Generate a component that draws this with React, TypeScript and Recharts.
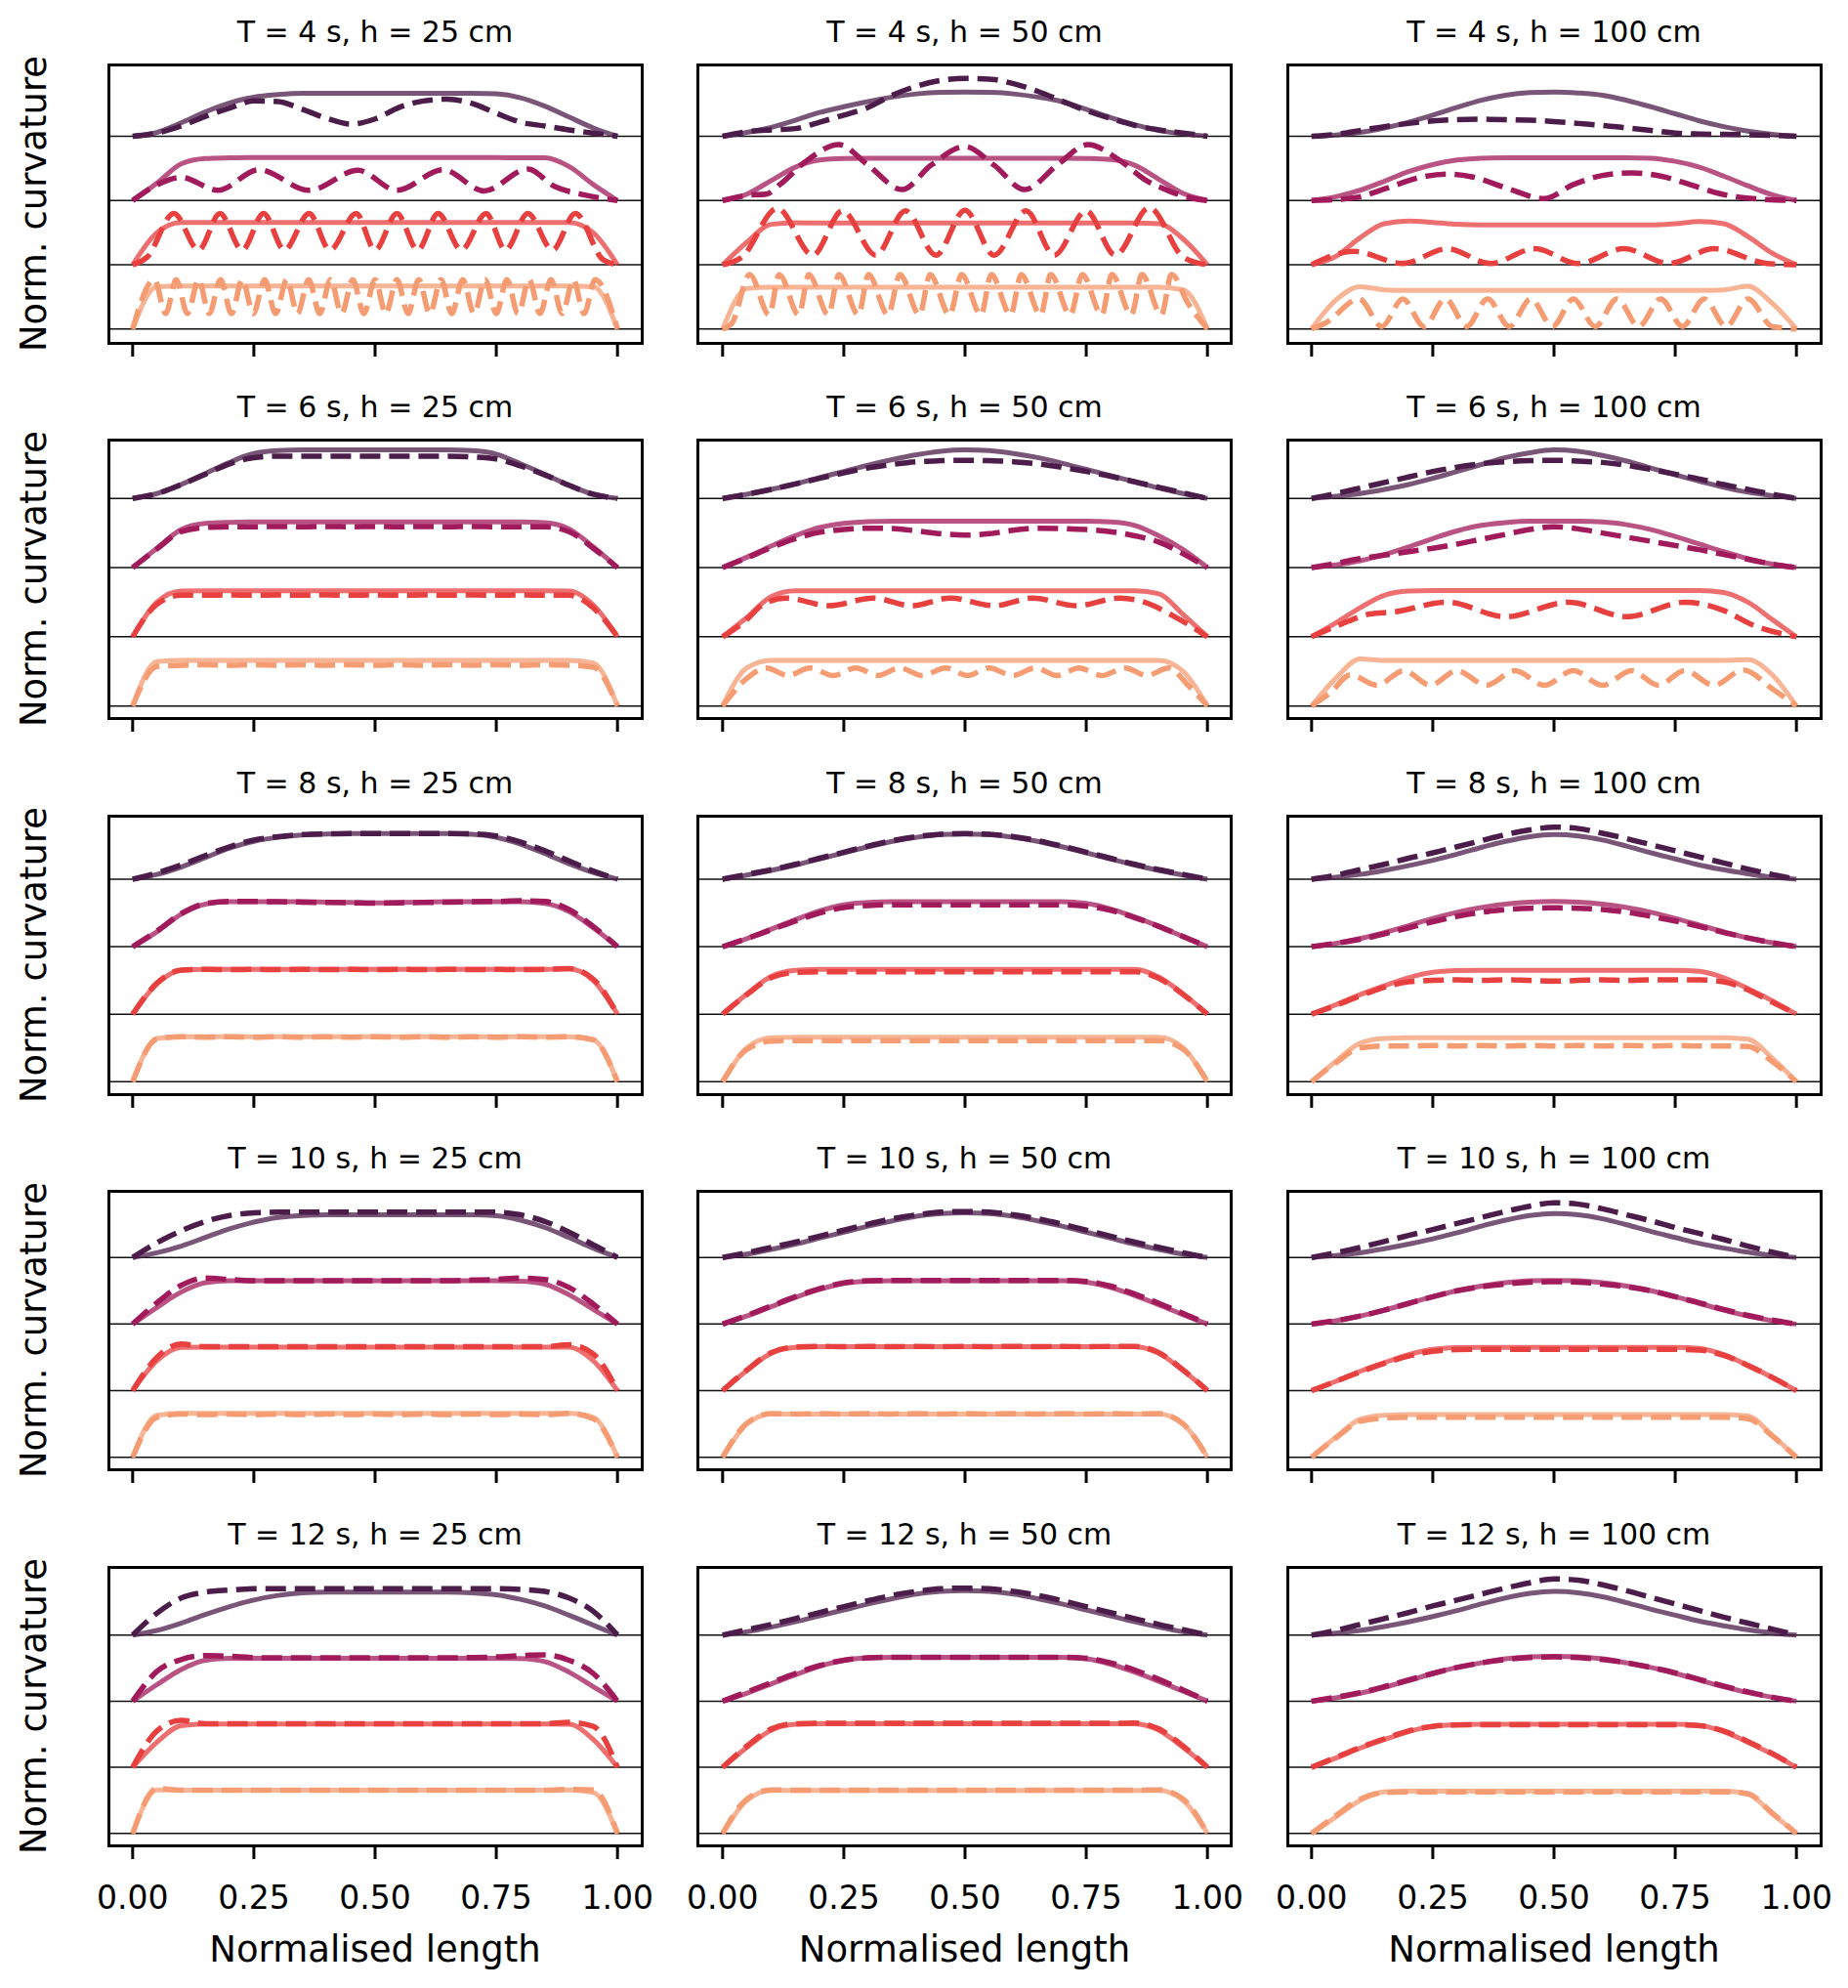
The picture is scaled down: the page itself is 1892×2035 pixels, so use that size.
import React from 'react';
import { LineChart, Line, XAxis, YAxis, ReferenceLine } from 'recharts';

type Band = number[] | [number, number][];

const FONT = "'DejaVu Sans', sans-serif";

// sampling grid for the evenly sampled curves
const xGrid = [0, 0.05, 0.1, 0.15, 0.2, 0.25, 0.3, 0.35, 0.4, 0.45, 0.5, 0.55, 0.6, 0.65, 0.7, 0.75, 0.8, 0.85, 0.9, 0.95, 1];
const xTicks = [0, 0.25, 0.5, 0.75, 1];
const periods = [4, 6, 8, 10, 12];
const depths = [25, 50, 100];
const bandColors = ['#4c1d4b', '#a11a5b', '#e83f3f', '#f69c73'];

// ---- T = 4 s ----
const s4_25: Band[] = [
  [0, 0.06, 0.21, 0.38, 0.52, 0.61, 0.65, 0.67, 0.67, 0.67, 0.67, 0.67, 0.67, 0.67, 0.67, 0.66, 0.6, 0.47, 0.3, 0.13, 0],
  [0, 0.27, 0.57, 0.655, 0.665, 0.67, 0.67, 0.67, 0.67, 0.67, 0.67, 0.67, 0.67, 0.67, 0.67, 0.67, 0.665, 0.665, 0.53, 0.25, 0],
  [0, 0.5, 0.66, 0.66, 0.66, 0.66, 0.66, 0.66, 0.66, 0.66, 0.66, 0.66, 0.66, 0.66, 0.66, 0.66, 0.66, 0.66, 0.66, 0.5, 0],
  [0, 0.66, 0.67, 0.67, 0.67, 0.67, 0.67, 0.67, 0.67, 0.67, 0.67, 0.67, 0.67, 0.67, 0.67, 0.67, 0.67, 0.67, 0.67, 0.66, 0],
];
const d4_25: Band[] = [
  [0, 0.05, 0.16, 0.31, 0.44, 0.55, 0.54, 0.42, 0.28, 0.19, 0.27, 0.45, 0.55, 0.58, 0.51, 0.36, 0.22, 0.16, 0.1, 0.05, 0],
  [[0, 0], [0.06, 0.28], [0.1, 0.36], [0.176, 0.16], [0.26, 0.48], [0.364, 0.16], [0.465, 0.47], [0.545, 0.16], [0.64, 0.48], [0.725, 0.15], [0.815, 0.49], [0.87, 0.22], [0.93, 0.09], [1, 0]],
  [[0, 0], [0.03, 0.12], [0.085, 0.8], [0.136, 0.23], [0.18, 0.8], [0.226, 0.23], [0.27, 0.8], [0.313, 0.23], [0.364, 0.8], [0.407, 0.23], [0.461, 0.8], [0.5, 0.23], [0.545, 0.8], [0.588, 0.23], [0.63, 0.8], [0.678, 0.23], [0.729, 0.8], [0.769, 0.23], [0.815, 0.8], [0.866, 0.23], [0.913, 0.8], [0.97, 0.08], [1, 0]],
  [[0, 0], [0.045, 0.77], [0.068, 0.24], [0.09, 0.77], [0.113, 0.24], [0.136, 0.77], [0.158, 0.24], [0.181, 0.77], [0.204, 0.24], [0.226, 0.77], [0.249, 0.24], [0.272, 0.77], [0.295, 0.24], [0.318, 0.77], [0.34, 0.24], [0.363, 0.77], [0.386, 0.24], [0.408, 0.77], [0.431, 0.24], [0.454, 0.77], [0.477, 0.24], [0.5, 0.77], [0.522, 0.24], [0.545, 0.77], [0.568, 0.24], [0.59, 0.77], [0.613, 0.24], [0.636, 0.77], [0.658, 0.24], [0.681, 0.77], [0.704, 0.24], [0.727, 0.77], [0.75, 0.24], [0.772, 0.77], [0.795, 0.24], [0.818, 0.77], [0.84, 0.24], [0.863, 0.77], [0.886, 0.24], [0.909, 0.77], [0.931, 0.24], [0.954, 0.77], [1, 0]],
];
const s4_50: Band[] = [
  [0, 0.06, 0.14, 0.25, 0.37, 0.46, 0.54, 0.61, 0.66, 0.685, 0.69, 0.685, 0.66, 0.61, 0.54, 0.42, 0.29, 0.18, 0.09, 0.04, 0],
  [0, 0.1, 0.31, 0.52, 0.63, 0.655, 0.66, 0.66, 0.66, 0.66, 0.66, 0.66, 0.66, 0.66, 0.66, 0.655, 0.64, 0.55, 0.33, 0.11, 0],
  [0, 0.35, 0.63, 0.655, 0.65, 0.65, 0.65, 0.65, 0.65, 0.65, 0.65, 0.65, 0.65, 0.65, 0.65, 0.65, 0.65, 0.65, 0.64, 0.4, 0],
  [0, 0.63, 0.65, 0.65, 0.65, 0.65, 0.65, 0.65, 0.65, 0.65, 0.65, 0.65, 0.65, 0.65, 0.65, 0.65, 0.65, 0.65, 0.65, 0.61, 0],
];
const d4_50: Band[] = [
  [0, 0.07, 0.1, 0.12, 0.22, 0.33, 0.45, 0.64, 0.78, 0.87, 0.9, 0.89, 0.82, 0.7, 0.55, 0.4, 0.28, 0.17, 0.1, 0.05, 0],
  [[0, 0], [0.05, 0.08], [0.09, 0.1], [0.12, 0.26], [0.17, 0.6], [0.24, 0.87], [0.3, 0.55], [0.37, 0.17], [0.43, 0.55], [0.5, 0.84], [0.56, 0.55], [0.623, 0.17], [0.69, 0.55], [0.753, 0.87], [0.82, 0.62], [0.87, 0.33], [0.92, 0.15], [0.96, 0.05], [1, 0]],
  [[0, 0], [0.04, 0.12], [0.113, 0.88], [0.186, 0.15], [0.247, 0.84], [0.316, 0.15], [0.377, 0.84], [0.44, 0.15], [0.5, 0.85], [0.56, 0.15], [0.626, 0.84], [0.684, 0.15], [0.75, 0.84], [0.81, 0.15], [0.88, 0.89], [0.95, 0.12], [1, 0]],
  [[0, 0], [0.02, 0.1], [0.056, 0.85], [0.096, 0.22], [0.117, 0.85], [0.157, 0.22], [0.178, 0.85], [0.218, 0.22], [0.24, 0.85], [0.28, 0.22], [0.301, 0.85], [0.341, 0.22], [0.366, 0.85], [0.406, 0.22], [0.428, 0.85], [0.468, 0.22], [0.493, 0.85], [0.533, 0.22], [0.554, 0.85], [0.594, 0.22], [0.616, 0.85], [0.656, 0.22], [0.677, 0.85], [0.717, 0.22], [0.742, 0.85], [0.782, 0.22], [0.803, 0.85], [0.843, 0.22], [0.865, 0.85], [0.905, 0.22], [0.926, 0.85], [0.96, 0.4], [1, 0]],
];
const s4_100: Band[] = [
  [0, 0.02, 0.06, 0.13, 0.22, 0.33, 0.45, 0.56, 0.64, 0.68, 0.69, 0.675, 0.64, 0.56, 0.46, 0.35, 0.24, 0.15, 0.08, 0.03, 0],
  [0, 0.06, 0.16, 0.3, 0.45, 0.56, 0.63, 0.66, 0.665, 0.665, 0.665, 0.665, 0.665, 0.665, 0.66, 0.61, 0.52, 0.38, 0.23, 0.09, 0],
  [0, 0.13, 0.42, 0.64, 0.68, 0.66, 0.63, 0.62, 0.62, 0.62, 0.62, 0.62, 0.62, 0.62, 0.62, 0.64, 0.675, 0.64, 0.44, 0.18, 0],
  [0, 0.45, 0.66, 0.61, 0.6, 0.6, 0.6, 0.6, 0.6, 0.6, 0.6, 0.6, 0.6, 0.6, 0.6, 0.6, 0.6, 0.61, 0.665, 0.4, 0],
];
const d4_100: Band[] = [
  [0, 0.03, 0.09, 0.15, 0.2, 0.24, 0.26, 0.265, 0.26, 0.25, 0.23, 0.2, 0.17, 0.13, 0.09, 0.05, 0.035, 0.03, 0.025, 0.015, 0],
  [[0, 0], [0.06, 0.02], [0.1, 0.06], [0.15, 0.18], [0.23, 0.37], [0.28, 0.41], [0.33, 0.37], [0.4, 0.2], [0.48, 0.03], [0.54, 0.25], [0.6, 0.39], [0.66, 0.43], [0.72, 0.38], [0.78, 0.25], [0.84, 0.11], [0.91, 0.03], [1, 0]],
  [[0, 0], [0.087, 0.21], [0.188, 0.02], [0.28, 0.25], [0.369, 0.02], [0.46, 0.25], [0.55, 0.02], [0.644, 0.25], [0.738, 0.02], [0.83, 0.25], [0.94, 0.02], [1, 0]],
  [[0, 0], [0.03, 0.1], [0.098, 0.47], [0.145, 0.04], [0.188, 0.47], [0.232, 0.04], [0.276, 0.47], [0.32, 0.04], [0.363, 0.47], [0.408, 0.04], [0.452, 0.47], [0.497, 0.04], [0.54, 0.47], [0.585, 0.04], [0.63, 0.47], [0.675, 0.04], [0.72, 0.47], [0.765, 0.04], [0.81, 0.47], [0.855, 0.04], [0.9, 0.47], [0.95, 0.04], [1, 0]],
];

// ---- T = 6 s ----
const s6_25: Band[] = [
  [0, 0.07, 0.2, 0.36, 0.52, 0.65, 0.69, 0.7, 0.7, 0.7, 0.7, 0.7, 0.7, 0.7, 0.69, 0.64, 0.5, 0.35, 0.19, 0.06, 0],
  [0, 0.28, 0.55, 0.64, 0.655, 0.66, 0.66, 0.66, 0.66, 0.66, 0.66, 0.66, 0.66, 0.66, 0.66, 0.66, 0.66, 0.65, 0.56, 0.3, 0],
  [0, 0.5, 0.66, 0.665, 0.665, 0.665, 0.665, 0.665, 0.665, 0.665, 0.665, 0.665, 0.665, 0.665, 0.665, 0.665, 0.665, 0.665, 0.66, 0.46, 0],
  [0, 0.64, 0.66, 0.66, 0.66, 0.66, 0.66, 0.66, 0.66, 0.66, 0.66, 0.66, 0.66, 0.66, 0.66, 0.66, 0.66, 0.66, 0.66, 0.62, 0],
];
const d6_25: Band[] = [
  [0, 0.07, 0.2, 0.35, 0.5, 0.59, 0.61, 0.61, 0.61, 0.61, 0.61, 0.61, 0.61, 0.61, 0.6, 0.57, 0.47, 0.34, 0.19, 0.06, 0],
  [0, 0.27, 0.52, 0.58, 0.59, 0.59, 0.595, 0.59, 0.595, 0.59, 0.595, 0.59, 0.595, 0.59, 0.595, 0.59, 0.59, 0.59, 0.52, 0.28, 0],
  [0, 0.47, 0.6, 0.6, 0.605, 0.6, 0.605, 0.6, 0.605, 0.6, 0.605, 0.6, 0.605, 0.6, 0.605, 0.6, 0.605, 0.6, 0.6, 0.42, 0],
  [0, 0.57, 0.59, 0.595, 0.59, 0.595, 0.59, 0.595, 0.59, 0.595, 0.59, 0.595, 0.59, 0.595, 0.59, 0.595, 0.59, 0.595, 0.59, 0.56, 0],
];
const s6_50: Band[] = [
  [0, 0.06, 0.13, 0.21, 0.3, 0.39, 0.48, 0.56, 0.63, 0.68, 0.7, 0.69, 0.65, 0.59, 0.51, 0.42, 0.33, 0.24, 0.15, 0.07, 0],
  [0, 0.15, 0.31, 0.46, 0.58, 0.64, 0.665, 0.67, 0.67, 0.67, 0.67, 0.67, 0.67, 0.67, 0.67, 0.67, 0.66, 0.61, 0.46, 0.26, 0],
  [0, 0.28, 0.58, 0.665, 0.665, 0.665, 0.665, 0.665, 0.665, 0.665, 0.665, 0.665, 0.665, 0.665, 0.665, 0.665, 0.665, 0.665, 0.62, 0.32, 0],
  [0, 0.55, 0.66, 0.66, 0.66, 0.66, 0.66, 0.66, 0.66, 0.66, 0.66, 0.66, 0.66, 0.66, 0.66, 0.66, 0.66, 0.66, 0.66, 0.5, 0],
];
const d6_50: Band[] = [
  [0, 0.06, 0.13, 0.21, 0.29, 0.37, 0.44, 0.49, 0.53, 0.545, 0.55, 0.545, 0.53, 0.5, 0.45, 0.39, 0.32, 0.24, 0.16, 0.08, 0],
  [0, 0.14, 0.29, 0.42, 0.51, 0.55, 0.57, 0.565, 0.53, 0.49, 0.47, 0.49, 0.54, 0.57, 0.565, 0.55, 0.52, 0.46, 0.37, 0.2, 0],
  [[0, 0], [0.05, 0.25], [0.08, 0.45], [0.13, 0.56], [0.22, 0.45], [0.31, 0.56], [0.39, 0.45], [0.47, 0.56], [0.56, 0.45], [0.64, 0.56], [0.73, 0.45], [0.82, 0.56], [0.87, 0.5], [0.93, 0.3], [1, 0]],
  [[0, 0], [0.05, 0.4], [0.09, 0.55], [0.135, 0.44], [0.18, 0.55], [0.228, 0.44], [0.275, 0.55], [0.32, 0.44], [0.365, 0.55], [0.412, 0.44], [0.46, 0.55], [0.505, 0.44], [0.55, 0.55], [0.598, 0.44], [0.645, 0.55], [0.69, 0.44], [0.735, 0.55], [0.782, 0.44], [0.83, 0.55], [0.875, 0.44], [0.92, 0.55], [0.96, 0.3], [1, 0]],
];
const s6_100: Band[] = [
  [0, 0.03, 0.07, 0.13, 0.2, 0.29, 0.39, 0.49, 0.59, 0.66, 0.7, 0.68, 0.62, 0.54, 0.44, 0.34, 0.25, 0.16, 0.09, 0.04, 0],
  [0, 0.04, 0.1, 0.19, 0.3, 0.42, 0.53, 0.61, 0.65, 0.67, 0.67, 0.67, 0.66, 0.62, 0.55, 0.45, 0.34, 0.23, 0.13, 0.05, 0],
  [0, 0.2, 0.42, 0.6, 0.66, 0.67, 0.67, 0.67, 0.67, 0.67, 0.67, 0.67, 0.67, 0.67, 0.67, 0.67, 0.67, 0.64, 0.5, 0.25, 0],
  [0, 0.4, 0.68, 0.66, 0.66, 0.66, 0.66, 0.66, 0.66, 0.66, 0.66, 0.66, 0.66, 0.66, 0.66, 0.66, 0.66, 0.66, 0.67, 0.45, 0],
];
const d6_100: Band[] = [
  [0, 0.07, 0.15, 0.23, 0.31, 0.39, 0.45, 0.5, 0.53, 0.545, 0.55, 0.54, 0.52, 0.48, 0.42, 0.35, 0.28, 0.2, 0.13, 0.06, 0],
  [0, 0.06, 0.13, 0.18, 0.23, 0.28, 0.34, 0.41, 0.48, 0.55, 0.59, 0.56, 0.5, 0.44, 0.38, 0.32, 0.26, 0.19, 0.12, 0.05, 0],
  [[0, 0], [0.06, 0.18], [0.12, 0.33], [0.17, 0.36], [0.28, 0.5], [0.4, 0.29], [0.53, 0.5], [0.65, 0.29], [0.77, 0.5], [0.85, 0.38], [0.91, 0.17], [1, 0]],
  [[0, 0], [0.04, 0.2], [0.08, 0.45], [0.135, 0.3], [0.19, 0.51], [0.245, 0.3], [0.3, 0.51], [0.36, 0.3], [0.42, 0.51], [0.48, 0.3], [0.54, 0.51], [0.6, 0.3], [0.66, 0.51], [0.715, 0.3], [0.77, 0.51], [0.83, 0.3], [0.89, 0.52], [0.95, 0.25], [1, 0]],
];

// ---- T = 8 s ----
const s8_25: Band[] = [
  [0, 0.07, 0.18, 0.32, 0.46, 0.56, 0.62, 0.655, 0.67, 0.675, 0.675, 0.675, 0.675, 0.675, 0.665, 0.62, 0.52, 0.38, 0.23, 0.1, 0],
  [0, 0.22, 0.48, 0.63, 0.665, 0.665, 0.665, 0.665, 0.66, 0.655, 0.65, 0.655, 0.66, 0.665, 0.665, 0.665, 0.665, 0.64, 0.52, 0.28, 0],
  [0, 0.45, 0.65, 0.665, 0.665, 0.665, 0.665, 0.665, 0.665, 0.665, 0.665, 0.665, 0.665, 0.665, 0.665, 0.665, 0.665, 0.665, 0.67, 0.5, 0],
  [0, 0.64, 0.665, 0.665, 0.665, 0.665, 0.665, 0.665, 0.665, 0.665, 0.665, 0.665, 0.665, 0.665, 0.665, 0.665, 0.665, 0.665, 0.665, 0.62, 0],
];
const d8_25: Band[] = [
  [0, 0.09, 0.21, 0.35, 0.48, 0.58, 0.63, 0.66, 0.67, 0.675, 0.675, 0.675, 0.675, 0.675, 0.67, 0.64, 0.55, 0.42, 0.27, 0.12, 0],
  [0, 0.23, 0.49, 0.64, 0.67, 0.67, 0.665, 0.66, 0.655, 0.65, 0.645, 0.65, 0.655, 0.66, 0.665, 0.67, 0.68, 0.67, 0.55, 0.3, 0],
  [0, 0.46, 0.655, 0.665, 0.66, 0.665, 0.66, 0.665, 0.66, 0.665, 0.66, 0.665, 0.66, 0.665, 0.66, 0.665, 0.66, 0.665, 0.675, 0.52, 0],
  [0, 0.63, 0.665, 0.66, 0.665, 0.66, 0.665, 0.66, 0.665, 0.66, 0.665, 0.66, 0.665, 0.66, 0.665, 0.66, 0.665, 0.66, 0.665, 0.62, 0],
];
const s8_50: Band[] = [
  [0, 0.06, 0.13, 0.21, 0.3, 0.39, 0.48, 0.56, 0.62, 0.66, 0.67, 0.66, 0.62, 0.56, 0.48, 0.39, 0.3, 0.21, 0.13, 0.06, 0],
  [0, 0.12, 0.26, 0.4, 0.53, 0.62, 0.655, 0.665, 0.665, 0.665, 0.665, 0.665, 0.665, 0.665, 0.665, 0.64, 0.56, 0.44, 0.3, 0.15, 0],
  [0, 0.3, 0.56, 0.65, 0.665, 0.665, 0.665, 0.665, 0.665, 0.665, 0.665, 0.665, 0.665, 0.665, 0.665, 0.665, 0.665, 0.665, 0.55, 0.3, 0],
  [0, 0.5, 0.65, 0.66, 0.66, 0.66, 0.66, 0.66, 0.66, 0.66, 0.66, 0.66, 0.66, 0.66, 0.66, 0.66, 0.66, 0.66, 0.66, 0.5, 0],
];
const d8_50: Band[] = [
  [0, 0.07, 0.14, 0.22, 0.31, 0.4, 0.49, 0.57, 0.63, 0.665, 0.675, 0.665, 0.63, 0.57, 0.49, 0.4, 0.31, 0.22, 0.14, 0.07, 0],
  [0, 0.12, 0.25, 0.38, 0.5, 0.58, 0.61, 0.62, 0.62, 0.62, 0.62, 0.62, 0.62, 0.62, 0.62, 0.6, 0.54, 0.43, 0.3, 0.15, 0],
  [0, 0.29, 0.54, 0.62, 0.63, 0.63, 0.63, 0.63, 0.63, 0.63, 0.63, 0.63, 0.63, 0.63, 0.63, 0.63, 0.63, 0.63, 0.53, 0.29, 0],
  [0, 0.48, 0.6, 0.61, 0.61, 0.61, 0.61, 0.61, 0.61, 0.61, 0.61, 0.61, 0.61, 0.61, 0.61, 0.61, 0.61, 0.61, 0.61, 0.48, 0],
];
const s8_100: Band[] = [
  [0, 0.03, 0.07, 0.13, 0.2, 0.28, 0.37, 0.47, 0.56, 0.63, 0.66, 0.64, 0.58, 0.49, 0.39, 0.3, 0.21, 0.14, 0.08, 0.03, 0],
  [0, 0.05, 0.12, 0.21, 0.31, 0.42, 0.51, 0.58, 0.63, 0.66, 0.67, 0.66, 0.63, 0.58, 0.51, 0.42, 0.32, 0.22, 0.13, 0.06, 0],
  [0, 0.14, 0.29, 0.42, 0.54, 0.62, 0.645, 0.65, 0.65, 0.65, 0.65, 0.65, 0.65, 0.65, 0.65, 0.65, 0.635, 0.54, 0.38, 0.2, 0],
  [0, 0.3, 0.57, 0.64, 0.65, 0.65, 0.65, 0.65, 0.65, 0.65, 0.65, 0.65, 0.65, 0.65, 0.65, 0.65, 0.65, 0.65, 0.63, 0.35, 0],
];
const d8_100: Band[] = [
  [0, 0.06, 0.14, 0.22, 0.31, 0.39, 0.48, 0.57, 0.66, 0.73, 0.77, 0.75, 0.68, 0.6, 0.51, 0.42, 0.33, 0.24, 0.15, 0.07, 0],
  [0, 0.05, 0.11, 0.19, 0.28, 0.37, 0.45, 0.51, 0.55, 0.57, 0.575, 0.57, 0.55, 0.51, 0.45, 0.38, 0.3, 0.21, 0.13, 0.06, 0],
  [0, 0.13, 0.27, 0.4, 0.48, 0.5, 0.51, 0.5, 0.51, 0.5, 0.49, 0.5, 0.51, 0.5, 0.51, 0.51, 0.51, 0.48, 0.36, 0.18, 0],
  [0, 0.28, 0.5, 0.53, 0.53, 0.535, 0.53, 0.535, 0.53, 0.535, 0.53, 0.535, 0.53, 0.535, 0.53, 0.535, 0.53, 0.53, 0.52, 0.3, 0],
];

// ---- T = 10 s ----
const s10_25: Band[] = [
  [0, 0.07, 0.17, 0.3, 0.43, 0.53, 0.6, 0.63, 0.64, 0.64, 0.64, 0.64, 0.64, 0.64, 0.64, 0.625, 0.56, 0.45, 0.3, 0.14, 0],
  [0, 0.25, 0.48, 0.62, 0.65, 0.65, 0.65, 0.65, 0.65, 0.65, 0.65, 0.65, 0.65, 0.65, 0.65, 0.65, 0.645, 0.6, 0.44, 0.22, 0],
  [0, 0.45, 0.65, 0.655, 0.655, 0.655, 0.655, 0.655, 0.655, 0.655, 0.655, 0.655, 0.655, 0.655, 0.655, 0.655, 0.655, 0.655, 0.655, 0.45, 0],
  [0, 0.63, 0.66, 0.66, 0.66, 0.66, 0.66, 0.66, 0.66, 0.66, 0.66, 0.66, 0.66, 0.66, 0.66, 0.66, 0.66, 0.66, 0.66, 0.6, 0],
];
const d10_25: Band[] = [
  [0, 0.22, 0.4, 0.54, 0.63, 0.67, 0.68, 0.68, 0.68, 0.68, 0.68, 0.68, 0.68, 0.68, 0.68, 0.68, 0.64, 0.54, 0.38, 0.19, 0],
  [0, 0.32, 0.58, 0.69, 0.67, 0.65, 0.65, 0.65, 0.65, 0.65, 0.65, 0.65, 0.65, 0.65, 0.66, 0.67, 0.69, 0.67, 0.55, 0.3, 0],
  [0, 0.5, 0.7, 0.66, 0.66, 0.66, 0.66, 0.66, 0.66, 0.66, 0.66, 0.66, 0.66, 0.66, 0.66, 0.66, 0.66, 0.66, 0.69, 0.55, 0],
  [0, 0.6, 0.65, 0.64, 0.65, 0.64, 0.65, 0.64, 0.65, 0.64, 0.65, 0.64, 0.65, 0.64, 0.65, 0.64, 0.65, 0.64, 0.66, 0.58, 0],
];
const s10_50: Band[] = [
  [0, 0.05, 0.12, 0.2, 0.29, 0.38, 0.47, 0.55, 0.62, 0.66, 0.67, 0.66, 0.62, 0.55, 0.47, 0.38, 0.29, 0.2, 0.12, 0.05, 0],
  [0, 0.12, 0.26, 0.4, 0.52, 0.61, 0.645, 0.65, 0.65, 0.65, 0.65, 0.65, 0.65, 0.65, 0.65, 0.63, 0.55, 0.43, 0.29, 0.14, 0],
  [0, 0.3, 0.56, 0.65, 0.66, 0.66, 0.66, 0.66, 0.66, 0.66, 0.66, 0.66, 0.66, 0.66, 0.66, 0.66, 0.66, 0.66, 0.56, 0.3, 0],
  [0, 0.5, 0.65, 0.65, 0.65, 0.65, 0.65, 0.65, 0.65, 0.65, 0.65, 0.65, 0.65, 0.65, 0.65, 0.65, 0.65, 0.65, 0.65, 0.5, 0],
];
const d10_50: Band[] = [
  [0, 0.07, 0.15, 0.23, 0.32, 0.41, 0.5, 0.58, 0.64, 0.68, 0.69, 0.68, 0.64, 0.58, 0.5, 0.41, 0.32, 0.23, 0.15, 0.07, 0],
  [0, 0.13, 0.27, 0.41, 0.53, 0.62, 0.65, 0.655, 0.655, 0.655, 0.655, 0.655, 0.655, 0.655, 0.655, 0.64, 0.57, 0.45, 0.31, 0.16, 0],
  [0, 0.31, 0.57, 0.655, 0.665, 0.66, 0.665, 0.66, 0.665, 0.66, 0.665, 0.66, 0.665, 0.66, 0.665, 0.66, 0.665, 0.665, 0.57, 0.31, 0],
  [0, 0.51, 0.655, 0.65, 0.655, 0.65, 0.655, 0.65, 0.655, 0.65, 0.655, 0.65, 0.655, 0.65, 0.655, 0.65, 0.655, 0.65, 0.655, 0.5, 0],
];
const s10_100: Band[] = [
  [0, 0.03, 0.07, 0.13, 0.2, 0.28, 0.37, 0.47, 0.56, 0.63, 0.66, 0.64, 0.58, 0.49, 0.39, 0.3, 0.21, 0.14, 0.08, 0.03, 0],
  [0, 0.05, 0.12, 0.21, 0.31, 0.41, 0.5, 0.57, 0.62, 0.65, 0.655, 0.65, 0.62, 0.57, 0.5, 0.41, 0.31, 0.21, 0.12, 0.05, 0],
  [0, 0.14, 0.29, 0.42, 0.54, 0.62, 0.645, 0.65, 0.65, 0.65, 0.65, 0.65, 0.65, 0.65, 0.65, 0.65, 0.635, 0.54, 0.38, 0.2, 0],
  [0, 0.3, 0.57, 0.63, 0.64, 0.64, 0.64, 0.64, 0.64, 0.64, 0.64, 0.64, 0.64, 0.64, 0.64, 0.64, 0.64, 0.64, 0.62, 0.33, 0],
];
const d10_100: Band[] = [
  [0, 0.07, 0.15, 0.24, 0.33, 0.42, 0.51, 0.6, 0.69, 0.77, 0.82, 0.8, 0.73, 0.64, 0.55, 0.45, 0.36, 0.27, 0.17, 0.08, 0],
  [0, 0.05, 0.12, 0.21, 0.31, 0.41, 0.5, 0.56, 0.6, 0.63, 0.635, 0.63, 0.6, 0.56, 0.5, 0.41, 0.32, 0.22, 0.13, 0.06, 0],
  [0, 0.14, 0.28, 0.41, 0.52, 0.59, 0.615, 0.62, 0.62, 0.62, 0.62, 0.62, 0.62, 0.62, 0.62, 0.62, 0.61, 0.53, 0.38, 0.2, 0],
  [0, 0.29, 0.54, 0.59, 0.6, 0.6, 0.6, 0.6, 0.6, 0.6, 0.6, 0.6, 0.6, 0.6, 0.6, 0.6, 0.6, 0.6, 0.58, 0.32, 0],
];

// ---- T = 12 s ----
const s12_25: Band[] = [
  [0, 0.07, 0.18, 0.31, 0.43, 0.53, 0.6, 0.64, 0.65, 0.65, 0.65, 0.65, 0.65, 0.65, 0.64, 0.61, 0.54, 0.44, 0.3, 0.15, 0],
  [0, 0.25, 0.48, 0.62, 0.65, 0.65, 0.65, 0.65, 0.65, 0.65, 0.65, 0.65, 0.65, 0.65, 0.65, 0.65, 0.645, 0.6, 0.44, 0.22, 0],
  [0, 0.38, 0.63, 0.655, 0.655, 0.655, 0.655, 0.655, 0.655, 0.655, 0.655, 0.655, 0.655, 0.655, 0.655, 0.655, 0.655, 0.655, 0.65, 0.42, 0],
  [0, 0.66, 0.655, 0.655, 0.655, 0.655, 0.655, 0.655, 0.655, 0.655, 0.655, 0.655, 0.655, 0.655, 0.655, 0.655, 0.655, 0.655, 0.66, 0.62, 0],
];
const d12_25: Band[] = [
  [0, 0.33, 0.56, 0.65, 0.68, 0.7, 0.7, 0.7, 0.7, 0.7, 0.7, 0.7, 0.7, 0.7, 0.7, 0.7, 0.69, 0.66, 0.56, 0.36, 0],
  [0, 0.45, 0.63, 0.69, 0.68, 0.66, 0.655, 0.655, 0.655, 0.655, 0.655, 0.655, 0.655, 0.655, 0.66, 0.67, 0.69, 0.7, 0.62, 0.42, 0],
  [0, 0.55, 0.71, 0.66, 0.66, 0.66, 0.66, 0.66, 0.66, 0.66, 0.66, 0.66, 0.66, 0.66, 0.66, 0.66, 0.66, 0.66, 0.68, 0.62, 0],
  [0, 0.68, 0.655, 0.655, 0.655, 0.655, 0.655, 0.655, 0.655, 0.655, 0.655, 0.655, 0.655, 0.655, 0.655, 0.655, 0.655, 0.655, 0.665, 0.66, 0],
];
const s12_50: Band[] = [
  [0, 0.05, 0.12, 0.2, 0.29, 0.38, 0.47, 0.55, 0.62, 0.66, 0.67, 0.66, 0.62, 0.55, 0.47, 0.38, 0.29, 0.2, 0.12, 0.05, 0],
  [0, 0.12, 0.26, 0.4, 0.53, 0.62, 0.655, 0.665, 0.665, 0.665, 0.665, 0.665, 0.665, 0.665, 0.665, 0.64, 0.56, 0.44, 0.3, 0.15, 0],
  [0, 0.3, 0.56, 0.65, 0.66, 0.66, 0.66, 0.66, 0.66, 0.66, 0.66, 0.66, 0.66, 0.66, 0.66, 0.66, 0.66, 0.66, 0.56, 0.3, 0],
  [0, 0.5, 0.65, 0.65, 0.65, 0.65, 0.65, 0.65, 0.65, 0.65, 0.65, 0.65, 0.65, 0.65, 0.65, 0.65, 0.65, 0.65, 0.65, 0.5, 0],
];
const d12_50: Band[] = [
  [0, 0.08, 0.16, 0.25, 0.34, 0.43, 0.52, 0.6, 0.66, 0.7, 0.71, 0.7, 0.66, 0.6, 0.52, 0.43, 0.34, 0.25, 0.16, 0.08, 0],
  [0, 0.14, 0.28, 0.42, 0.54, 0.62, 0.655, 0.665, 0.665, 0.665, 0.665, 0.665, 0.665, 0.665, 0.665, 0.65, 0.58, 0.47, 0.33, 0.17, 0],
  [0, 0.32, 0.58, 0.66, 0.665, 0.665, 0.665, 0.665, 0.665, 0.665, 0.665, 0.665, 0.665, 0.665, 0.665, 0.665, 0.665, 0.67, 0.58, 0.32, 0],
  [0, 0.52, 0.66, 0.655, 0.655, 0.655, 0.655, 0.655, 0.655, 0.655, 0.655, 0.655, 0.655, 0.655, 0.655, 0.655, 0.655, 0.655, 0.66, 0.52, 0],
];
const s12_100: Band[] = [
  [0, 0.03, 0.07, 0.13, 0.2, 0.28, 0.37, 0.47, 0.56, 0.63, 0.66, 0.64, 0.58, 0.49, 0.39, 0.3, 0.21, 0.14, 0.08, 0.03, 0],
  [0, 0.05, 0.12, 0.21, 0.31, 0.42, 0.51, 0.58, 0.64, 0.67, 0.68, 0.67, 0.64, 0.58, 0.51, 0.42, 0.32, 0.22, 0.13, 0.06, 0],
  [0, 0.14, 0.29, 0.42, 0.54, 0.62, 0.645, 0.65, 0.65, 0.65, 0.65, 0.65, 0.65, 0.65, 0.65, 0.65, 0.635, 0.54, 0.38, 0.2, 0],
  [0, 0.25, 0.5, 0.63, 0.64, 0.64, 0.64, 0.64, 0.64, 0.64, 0.64, 0.64, 0.64, 0.64, 0.64, 0.64, 0.64, 0.64, 0.6, 0.3, 0],
];
const d12_100: Band[] = [
  [0, 0.07, 0.16, 0.25, 0.34, 0.44, 0.53, 0.62, 0.71, 0.79, 0.85, 0.83, 0.76, 0.67, 0.57, 0.47, 0.37, 0.27, 0.18, 0.09, 0],
  [0, 0.06, 0.13, 0.22, 0.32, 0.42, 0.51, 0.58, 0.63, 0.66, 0.67, 0.66, 0.63, 0.58, 0.51, 0.43, 0.33, 0.23, 0.14, 0.06, 0],
  [0, 0.15, 0.3, 0.43, 0.55, 0.62, 0.64, 0.645, 0.645, 0.645, 0.645, 0.645, 0.645, 0.645, 0.645, 0.645, 0.63, 0.55, 0.39, 0.21, 0],
  [0, 0.27, 0.52, 0.62, 0.63, 0.63, 0.63, 0.63, 0.63, 0.63, 0.63, 0.63, 0.63, 0.63, 0.63, 0.63, 0.63, 0.63, 0.6, 0.31, 0],
];

const solidRows = [
  [s4_25, s4_50, s4_100],
  [s6_25, s6_50, s6_100],
  [s8_25, s8_50, s8_100],
  [s10_25, s10_50, s10_100],
  [s12_25, s12_50, s12_100],
];
const dashedRows = [
  [d4_25, d4_50, d4_100],
  [d6_25, d6_50, d6_100],
  [d8_25, d8_50, d8_100],
  [d10_25, d10_50, d10_100],
  [d12_25, d12_50, d12_100],
];

// layout (px)
const colLefts = [111, 714.5, 1318];
const rowTops = [66, 450, 835, 1219, 1604];
const PLOT_W = 546;
const PLOT_H = 285;
const PAD = 40;
const AXIS_H = 80;
const yDomains: [number, number][] = [
  [-0.216, 4.118],
  [-0.174, 3.85],
  [-0.184, 3.94],
  [-0.18, 4.0],
  [-0.18, 4.03],
];

function toPoints(band: Band, offset: number) {
  if (Array.isArray(band[0])) {
    return (band as [number, number][]).map(([x, y]) => ({ x, y: y + offset }));
  }
  return (band as number[]).map((y, i) => ({ x: xGrid[i], y: y + offset }));
}

function Panel({ row, col }: { row: number; col: number }) {
  const solid = solidRows[row][col];
  const dashed = dashedRows[row][col];
  const isBottom = row === periods.length - 1;
  return (
    <div style={{ position: 'absolute', left: colLefts[col] - PAD, top: rowTops[row] - PAD }}>
      <LineChart
        width={PLOT_W + 2 * PAD}
        height={PLOT_H + PAD + AXIS_H}
        margin={{ top: PAD, right: PAD, bottom: 0, left: PAD }}
      >
        <XAxis
          type="number"
          dataKey="x"
          domain={[-0.05, 1.05]}
          ticks={xTicks}
          interval={0}
          allowDataOverflow
          height={AXIS_H}
          axisLine={false}
          tickSize={14}
          tickMargin={28}
          tickLine={{ stroke: '#000', strokeWidth: 3 }}
          tick={{ fill: '#000', fontSize: 33, fontFamily: FONT }}
          tickFormatter={(v: number) => (isBottom ? v.toFixed(2) : '')}
        />
        <YAxis type="number" domain={yDomains[row]} allowDataOverflow hide />
        {[0, 1, 2, 3].map((k) => (
          <ReferenceLine key={'b' + k} y={k} stroke="#111" strokeWidth={1.5} />
        ))}
        {bandColors.map((c, b) => (
          <Line
            key={'s' + b}
            data={toPoints(solid[b], 3 - b)}
            dataKey="y"
            type="monotone"
            stroke={c}
            strokeOpacity={0.75}
            strokeWidth={5}
            dot={false}
            activeDot={false}
            isAnimationActive={false}
          />
        ))}
        {bandColors.map((c, b) => (
          <Line
            key={'d' + b}
            data={toPoints(dashed[b], 3 - b)}
            dataKey="y"
            type="monotone"
            stroke={c}
            strokeWidth={5.5}
            strokeDasharray="21 9"
            dot={false}
            activeDot={false}
            isAnimationActive={false}
          />
        ))}
      </LineChart>
    </div>
  );
}

export default function App() {
  return (
    <div style={{ position: 'absolute', left: 0, top: 0, width: 1892, height: 2035, background: '#fff', fontFamily: FONT }}>
      {periods.map((_, r) => depths.map((__, c) => <Panel key={r + '-' + c} row={r} col={c} />))}
      {periods.map((_, r) =>
        depths.map((__, c) => (
          <div
            key={'f' + r + c}
            style={{
              position: 'absolute',
              left: colLefts[c] - 1.5,
              top: rowTops[r] - 1.5,
              width: PLOT_W + 3,
              height: PLOT_H + 3,
              border: '3px solid #000',
              boxSizing: 'border-box',
              pointerEvents: 'none',
            }}
          />
        ))
      )}
      <svg width={1892} height={2035} style={{ position: 'absolute', left: 0, top: 0, pointerEvents: 'none' }} fontFamily={FONT}>
        {periods.map((T, r) =>
          depths.map((h, c) => (
            <text key={'t' + r + c} x={colLefts[c] + PLOT_W / 2} y={rowTops[r] - 23} fontSize={30} textAnchor="middle" fill="#000">
              {`T = ${T} s, h = ${h} cm`}
            </text>
          ))
        )}
        {depths.map((h, c) => (
          <text key={'xl' + c} x={colLefts[c] + PLOT_W / 2} y={2008} fontSize={37} textAnchor="middle" fill="#000">
            Normalised length
          </text>
        ))}
        {periods.map((T, r) => {
          const cy = rowTops[r] + PLOT_H / 2;
          return (
            <text key={'yl' + r} x={47} y={cy} transform={`rotate(-90 47 ${cy})`} fontSize={37} textAnchor="middle" fill="#000">
              Norm. curvature
            </text>
          );
        })}
      </svg>
    </div>
  );
}
